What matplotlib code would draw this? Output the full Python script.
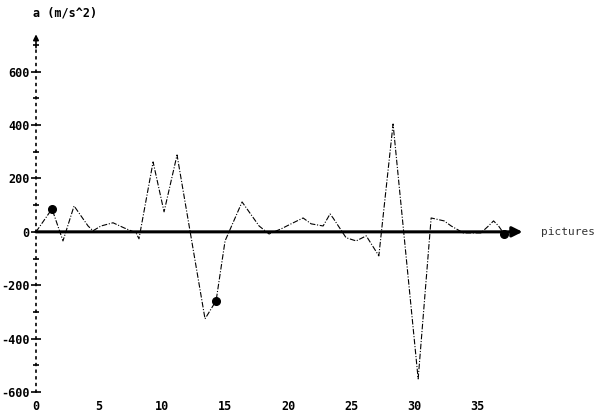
import matplotlib
matplotlib.use('Agg')
import matplotlib.pyplot as plt
from matplotlib.ticker import MultipleLocator

#Picture number and acceleration values
Pictures = [0, 1.27, 2.14, 3.02, 4.13, 4.52, 5.16, 6.11, 6.98, 7.94, 8.17, 9.29, 10.16, 11.19,
            13.41, 14.29, 15.0, 16.35, 17.7, 18.49, 19.44, 20.24, 21.19, 21.83, 22.78, 23.33,
            23.57, 24.6, 25.4, 26.2, 26.6, 27.2, 28.33, 30.32, 31.35, 32.38, 32.94, 33.9,
            35.3, 35.9, 36.3, 36.7, 37.14]
Accel = [0, 86, -34, 97, 22, 4, 22, 34, 15, -4, -26, 262, 75, 288,
         -326, -258, -34, 112, 22, -8, 11, 30, 52, 30, 22, 67,
         52, -22, -34, -15, -45, -90, 404, -551, 52, 41, 22, -4,
         -4, 22, 41, 22, -8]
MarkedPoints = [1, 15, 42]   #indices of the points drawn with a filled dot

XTicks = [0, 5, 10, 15, 20, 25, 30, 35]
XTickLabels = ['0', '5', '10', '15', '20', '25', '30', '35']
YTicks = [-600, -400, -200, 0, 200, 400, 600]

Mono = 'DejaVu Sans Mono'


def CreateGraph():
    fig = plt.figure(figsize=(6.16, 4.15), dpi=100)
    #axes placed so that x=0 / y=0 fall where the scan has them
    ax = fig.add_axes([36 / 616, 23 / 415, 484 / 616, 347 / 415])
    ax.set_xlim(0, 38.4)
    ax.set_ylim(-600, 700)

    #data line, thin and broken like the old plotter pen
    ax.plot(Pictures, Accel, color='black', lw=0.8, linestyle=(0, (5, 1.5, 1, 1.5)),
            marker='o', markersize=5.5, markevery=MarkedPoints, clip_on=False, zorder=3)

    #y axis: dotted spine with crosses at the labelled ticks
    for side in ['top', 'right', 'bottom']:
        ax.spines[side].set_visible(False)
    ax.spines['left'].set_position(('data', 0))
    ax.spines['left'].set_linestyle((0, (1, 3)))
    ax.spines['left'].set_linewidth(1.2)
    ax.set_yticks(YTicks)
    ax.set_yticklabels([str(v) for v in YTicks], family=Mono, weight='bold', fontsize=8.5)
    ax.yaxis.set_minor_locator(MultipleLocator(100))
    ax.tick_params(axis='y', which='major', direction='inout', length=7, width=1.2, pad=1)
    ax.tick_params(axis='y', which='minor', direction='inout', length=5, width=1.2)
    ax.annotate('', xy=(0, 740), xytext=(0, 690), annotation_clip=False,
                arrowprops=dict(arrowstyle='-|>', color='black', lw=1.2, mutation_scale=8,
                                shrinkA=0, shrinkB=0))

    #x axis: heavy line with arrow, numbers at the bottom of the figure
    ax.annotate('', xy=(38.6, 0), xytext=(0, 0), annotation_clip=False,
                arrowprops=dict(arrowstyle='-|>', color='black', lw=2.2, mutation_scale=15,
                                shrinkA=0, shrinkB=0))
    ax.set_xticks(XTicks)
    ax.set_xticklabels(XTickLabels, family=Mono, weight='bold', fontsize=8.5)
    ax.tick_params(axis='x', length=0, pad=6)

    ax.text(40.1, 0, 'pictures', family=Mono, fontsize=8, color='#333333',
            va='center', ha='left', clip_on=False)
    fig.text(33 / 616, 1 - 13 / 415, 'a (m/s^2)', family=Mono, weight='bold',
             fontsize=8.5, va='center', ha='left')

    fig.savefig('out.png', dpi=100)


CreateGraph()
